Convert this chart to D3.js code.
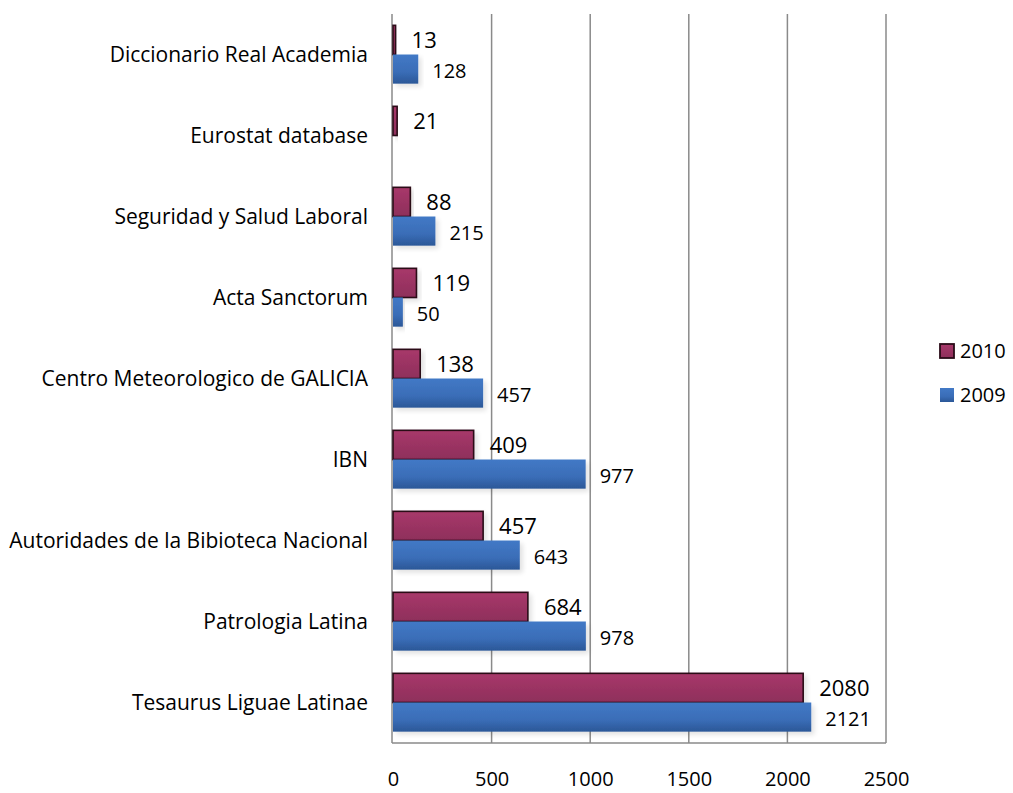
<!DOCTYPE html>
<html><head><meta charset="utf-8">
<script src="https://cdn.jsdelivr.net/npm/d3@7/dist/d3.min.js"></script>
<style>body{margin:0;background:#fff}svg{display:block}text{font-family:"Open Sans",sans-serif;fill:#000}</style>
</head><body>
<svg id="c" width="1013" height="793"></svg>
<script>
const categories = ["Diccionario Real Academia","Eurostat database","Seguridad y Salud Laboral","Acta Sanctorum","Centro Meteorologico de GALICIA","IBN","Autoridades de la Bibioteca Nacional","Patrologia Latina","Tesaurus Liguae Latinae"];
const values2010 = [13,21,88,119,138,409,457,684,2080];
const values2009 = [128,null,215,50,457,977,643,978,2121];
const seriesNames = ["2010","2009"];
const xTicks = [0,500,1000,1500,2000,2500];

const svg = d3.select("#c");
const L=393, R=886, T=14, B=743;
const x = d3.scaleLinear().domain([0,2500]).range([L,R]);
const y = d3.scaleBand().domain(categories).range([T,B]).paddingInner(0.28).paddingOuter(0.14);
const sub = d3.scaleBand().domain(seriesNames).range([0,y.bandwidth()]);

const defs = svg.append("defs");
const gb = defs.append("linearGradient").attr("id","gBlue").attr("x1",0).attr("x2",0).attr("y1",0).attr("y2",1);
gb.append("stop").attr("offset","0%").attr("stop-color","#4279c6");
gb.append("stop").attr("offset","60%").attr("stop-color","#3a6db7");
gb.append("stop").attr("offset","100%").attr("stop-color","#2b5797");
const gm = defs.append("linearGradient").attr("id","gMar").attr("x1",0).attr("x2",0).attr("y1",0).attr("y2",1);
gm.append("stop").attr("offset","0%").attr("stop-color","#a8386a");
gm.append("stop").attr("offset","100%").attr("stop-color","#8e2f5b");
const sh = defs.append("filter").attr("id","sh").attr("x","-10%").attr("y","-30%").attr("width","130%").attr("height","170%");
sh.append("feGaussianBlur").attr("in","SourceAlpha").attr("stdDeviation",2.5).attr("result","b");
sh.append("feOffset").attr("in","b").attr("dx",3).attr("dy",3).attr("result","o");
sh.append("feComponentTransfer").attr("in","o").attr("result","o2").append("feFuncA").attr("type","linear").attr("slope",0.12);
const mg = sh.append("feMerge"); mg.append("feMergeNode").attr("in","o2"); mg.append("feMergeNode").attr("in","SourceGraphic");

// gridlines
svg.append("g").selectAll("line").data(xTicks.slice(1)).join("line")
  .attr("x1",d=>x(d)).attr("x2",d=>x(d)).attr("y1",T).attr("y2",B)
  .attr("stroke","#8a8a8a").attr("stroke-width",1.5);
// axes lines
svg.append("line").attr("x1",x(0)-1).attr("x2",x(0)-1).attr("y1",T).attr("y2",B).attr("stroke","#8a8a8a").attr("stroke-width",1.5);
svg.append("line").attr("x1",x(0)-1).attr("x2",R).attr("y1",B).attr("y2",B).attr("stroke","#8a8a8a").attr("stroke-width",1.5);

// bars
const rows = categories.map((c,i)=>({c, v10:values2010[i], v09:values2009[i]}));
const g = svg.append("g");
rows.forEach(r=>{
  const y0 = y(r.c);
  if(r.v10!=null){
    g.append("rect").attr("x",x(0)).attr("y",y0+sub("2010")).attr("width",x(r.v10)-x(0)).attr("height",sub.bandwidth())
      .attr("fill","url(#gMar)").attr("stroke","#2a0c18").attr("stroke-width",1.6).attr("filter","url(#sh)");
    g.append("text").attr("x",x(r.v10)+16).attr("y",y0+sub("2010")+sub.bandwidth()/2+8.5)
      .attr("font-size",22).text(r.v10);
  }
  if(r.v09!=null){
    g.append("rect").attr("x",x(0)).attr("y",y0+sub("2009")).attr("width",x(r.v09)-x(0)).attr("height",sub.bandwidth())
      .attr("fill","url(#gBlue)").attr("filter","url(#sh)");
    g.append("text").attr("x",x(r.v09)+14).attr("y",y0+sub("2009")+sub.bandwidth()/2+9)
      .attr("font-size",20).text(r.v09);
  }
});

// category labels
const yAxis = d3.axisLeft(y).tickSize(0).tickPadding(0);
const ya = svg.append("g").attr("transform",`translate(368,0)`).call(yAxis);
ya.select(".domain").remove();
ya.selectAll("text").attr("font-size",21).style("font-family","'Open Sans',sans-serif").attr("fill","#000").attr("dy","0.34em");

// x axis labels
const xAxis = d3.axisBottom(x).tickValues(xTicks).tickSize(0).tickPadding(0).tickFormat(d3.format("d"));
const xa = svg.append("g").attr("transform",`translate(0,0)`).call(xAxis);
xa.select(".domain").remove();
xa.selectAll("text").attr("font-size",20).style("font-family","'Open Sans',sans-serif").attr("fill","#000").attr("y",786).attr("dy",0);

// legend
const lg = svg.append("g");
const leg = [{n:"2010",fill:"url(#gMar)",stroke:"#2a0c18",y:351},{n:"2009",fill:"url(#gBlue)",stroke:"none",y:395}];
leg.forEach(l=>{
  lg.append("rect").attr("x",940).attr("y",l.y-7).attr("width",14).attr("height",14).attr("fill",l.fill).attr("stroke",l.stroke).attr("stroke-width",1.8);
  lg.append("text").attr("x",960).attr("y",l.y+7).attr("font-size",20).text(l.n);
});
</script>
</body></html>
